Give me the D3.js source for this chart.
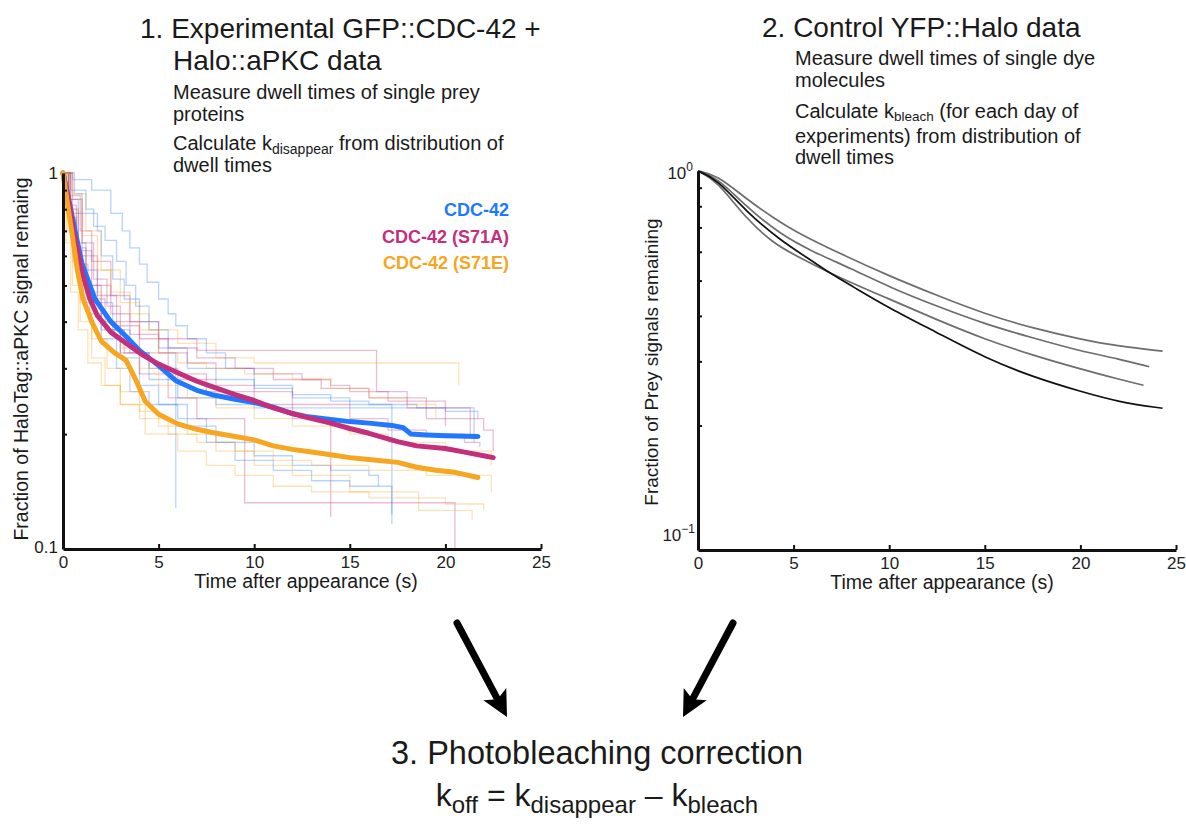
<!DOCTYPE html>
<html lang="en">
<head>
<meta charset="utf-8" />
<title>Photobleaching correction</title>
<style>
  body { margin: 0; background: #fff; }
  svg { display: block; font-family: 'Liberation Sans', Arial, sans-serif; fill: #1a1a1a; }
  .tick text { font-size: 17px; fill: #222; font-family: 'Liberation Sans', Arial, sans-serif; }
  .faint { fill: none; stroke-width: 1.3; stroke-opacity: 0.32; }
  .thick { fill: none; stroke-width: 5; stroke-linejoin: round; stroke-linecap: round; }
  .decay { fill: none; stroke-width: 1.7; }
</style>
</head>
<body>
<svg id="fig" width="1186" height="825"></svg>
<script src="https://d3js.org/d3.v7.min.js"></script>
<script>
// ---------------- data: panel 1 (mean curves) ----------------
const cdc42 = [[0,1],[0.3,0.85],[0.63,0.70],[1.0,0.57],[1.67,0.46],[2.5,0.40],[3.3,0.365],[4.0,0.335],[5,0.305],
  [5.9,0.278],[7,0.262],[7.8,0.255],[9,0.248],[10,0.243],[11,0.236],[12,0.227],[12.7,0.223],[14,0.219],[15,0.216],
  [16,0.214],[17.2,0.211],[17.8,0.208],[18.2,0.200],[19,0.199],[20,0.198],[21.7,0.197]];
const s71a = [[0,1],[0.3,0.84],[0.55,0.70],[1.0,0.54],[1.41,0.46],[1.8,0.415],[2.5,0.375],[3.3,0.350],[4.2,0.325],
  [5,0.308],[6,0.292],[7,0.277],[7.8,0.268],[9,0.255],[10,0.246],[11,0.235],[12,0.227],[12.7,0.222],[14,0.214],
  [15,0.207],[16,0.201],[17.5,0.191],[18.5,0.186],[20,0.183],[21,0.179],[22,0.175],[22.5,0.173]];
const s71e = [[0,1],[0.2,0.85],[0.45,0.70],[0.75,0.55],[1.05,0.46],[1.5,0.40],[2.0,0.355],[2.7,0.33],[3.3,0.315],
  [3.8,0.28],[4.3,0.245],[5,0.226],[6,0.213],[7,0.206],[7.8,0.202],[9,0.197],[10,0.193],[11,0.186],[12,0.182],
  [13,0.179],[14,0.176],[15,0.173],[16,0.171],[17.5,0.168],[18.5,0.163],[19.5,0.160],[20.5,0.158],[21.7,0.153]];

// individual embryos (step curves)
const cdc42Runs = [
  [[0,1],[0.5,0.96],[1.5,0.9],[2.5,0.78],[3.1,0.70],[3.5,0.63],[4.0,0.57],[4.4,0.51],[5.0,0.46],[5.5,0.42],[5.9,0.39],[6.5,0.36],[7.5,0.33],[8.5,0.30],[10,0.27],[12,0.25],[15,0.24],[17.2,0.23],[17.2,0.122]],
  [[0,1],[0.4,0.90],[1.2,0.80],[1.6,0.72],[2.2,0.66],[2.8,0.58],[3.3,0.50],[3.8,0.44],[4.5,0.38],[5.5,0.33],[5.9,0.29],[5.9,0.127]],
  [[0,1],[0.3,0.85],[0.8,0.65],[1.2,0.55],[1.8,0.45],[2.6,0.38],[3.5,0.33],[4.5,0.28],[6,0.25],[8,0.24],[10,0.235],[13,0.235],[16,0.235],[18,0.235],[21.5,0.235],[21.5,0.19]],
  [[0,1],[0.2,0.8],[0.5,0.62],[0.9,0.5],[1.4,0.42],[2,0.36],[2.8,0.30],[3.5,0.26],[4.5,0.24],[6,0.22],[7.5,0.19],[9,0.17],[11,0.16],[13,0.15],[15,0.145],[17.2,0.14],[17.2,0.115]],
  [[0,1],[0.6,0.88],[1.0,0.78],[1.8,0.70],[2.0,0.60],[2.6,0.52],[3.2,0.46],[4.0,0.40],[5.0,0.34],[6.5,0.30],[8,0.28],[10,0.265],[12,0.255],[14,0.245],[16,0.24],[18.5,0.235],[20,0.23],[21.7,0.22]],
  [[0,1],[0.3,0.75],[0.7,0.56],[1.2,0.45],[2,0.38],[3,0.32],[4,0.27],[5,0.24],[6.5,0.21],[8,0.19],[10,0.175],[12,0.165],[14,0.16],[16,0.155],[16.5,0.145]]
];
const s71aRuns = [
  [[0,1],[0.4,0.85],[1,0.65],[1.6,0.52],[2.3,0.44],[3,0.40],[4,0.36],[5.5,0.34],[7,0.335],[9,0.335],[12,0.335],[16.4,0.335],[16.4,0.26],[18,0.25],[19,0.22],[20,0.21]],
  [[0,1],[0.3,0.8],[0.8,0.62],[1.5,0.5],[2.5,0.42],[3.5,0.37],[5,0.33],[6.5,0.31],[8,0.30],[10,0.29],[12.5,0.28],[14,0.27],[15,0.26],[17,0.245],[20,0.235],[21.3,0.225],[21.3,0.2]],
  [[0,1],[0.3,0.82],[0.7,0.63],[1.2,0.5],[2,0.4],[3,0.33],[4,0.29],[5.5,0.25],[7,0.22],[9.5,0.20],[9.5,0.131],[20.5,0.131],[20.5,0.098]],
  [[0,1],[0.5,0.78],[1,0.6],[1.8,0.47],[2.8,0.39],[4,0.33],[5.5,0.29],[7.5,0.26],[10,0.24],[12,0.22],[14,0.19],[14,0.12]],
  [[0,1],[0.4,0.87],[0.9,0.7],[1.5,0.58],[2.5,0.47],[3.5,0.40],[5,0.36],[7,0.32],[9,0.30],[11,0.28],[13.5,0.265],[16,0.25],[18,0.235],[20,0.22],[22,0.205],[22.5,0.18]],
  [[0,1],[0.3,0.76],[0.7,0.57],[1.3,0.46],[2.2,0.38],[3.2,0.33],[4.5,0.30],[6,0.28],[8,0.27],[10,0.26],[12,0.24],[15,0.22],[17,0.205],[19,0.20],[21,0.19],[21.8,0.185]]
];
const s71eRuns = [
  [[0,1],[0.2,0.78],[0.5,0.58],[0.9,0.45],[1.5,0.36],[2.3,0.30],[3,0.26],[4,0.23],[5,0.21],[6.5,0.2],[8,0.18],[10,0.165],[12,0.155],[15,0.14],[18.6,0.125],[21.4,0.118]],
  [[0,1],[0.4,0.85],[1,0.68],[1.8,0.55],[2.5,0.48],[3.5,0.42],[4.5,0.38],[6,0.35],[8,0.32],[10,0.31],[14,0.31],[20.7,0.31],[20.7,0.27]],
  [[0,1],[0.2,0.7],[0.5,0.5],[0.9,0.4],[1.5,0.32],[2.2,0.27],[3,0.24],[4,0.22],[5.5,0.2],[7,0.19],[9,0.18],[11,0.17],[13,0.165],[16,0.16],[19,0.155],[22.4,0.15],[22.4,0.14]],
  [[0,1],[0.3,0.8],[0.7,0.6],[1.2,0.48],[2,0.4],[3,0.34],[4,0.3],[5,0.27],[6.5,0.25],[8,0.235],[10,0.22],[12,0.21],[15,0.2],[17,0.19],[20,0.18],[22.4,0.165]],
  [[0,1],[0.15,0.65],[0.4,0.48],[0.8,0.38],[1.3,0.31],[2,0.27],[3,0.24],[4.3,0.2],[6,0.18],[7.5,0.165],[9,0.155],[11,0.145],[13,0.14],[16,0.135],[20,0.13],[22,0.125]],
  [[0,1],[0.5,0.88],[1.2,0.7],[2,0.55],[3,0.45],[4,0.38],[5,0.33],[6,0.31],[7.5,0.3],[9.5,0.29],[12,0.28],[14,0.265],[16,0.25],[18,0.24],[19.5,0.22]]
];

// ---------------- data: panel 2 (photobleaching controls) ----------------
const dayA = [[0,1],[1,0.975],[2.5,0.84],[4,0.74],[5,0.685],[7.5,0.59],[10,0.515],[12.5,0.455],[15,0.405],[17.5,0.37],[20,0.345],[22,0.33],[24.3,0.32]];
const dayB = [[0,1],[1,0.96],[2.5,0.80],[4.3,0.67],[6,0.60],[8,0.54],[10,0.48],[12.5,0.425],[15,0.38],[17.5,0.348],[20,0.32],[22,0.305],[23.6,0.29]];
const dayC = [[0,1],[1,0.94],[2.5,0.74],[4,0.63],[5,0.59],[7,0.52],[10,0.445],[12.5,0.39],[15,0.345],[17.5,0.312],[20,0.286],[22,0.268],[23.3,0.258]];
const dayD = [[0,1],[1,0.95],[2.5,0.775],[4.3,0.645],[6,0.565],[7,0.52],[8,0.485],[10,0.42],[12.5,0.36],[15,0.307],[17.5,0.272],[20,0.248],[22,0.232],[24.3,0.223]];

const legendNames = ["CDC-42", "CDC-42 (S71A)", "CDC-42 (S71E)"];
const colors = ["#2277ff", "#c42f7b", "#f6a620"];
const xTicks = [0, 5, 10, 15, 20, 25];
const minorY = [0.2, 0.3, 0.4, 0.5, 0.6, 0.7, 0.8, 0.9];

const svg = d3.select("#fig");
svg.append("rect").attr("width", 1186).attr("height", 825).attr("fill", "#fff");

// helper for text with optional subscripts
function label(x, y, parts, size, opts = {}) {
  const t = svg.append("text")
    .attr("x", x).attr("y", y)
    .attr("font-size", size)
    .attr("text-anchor", opts.anchor || "start")
    .attr("fill", "#1a1a1a");
  let carry = 0;
  parts.forEach(p => {
    if (typeof p === "string") {
      const s = t.append("tspan").text(p);
      if (carry) s.attr("dy", -carry);
      carry = 0;
    } else {
      t.append("tspan").attr("font-size", p.size).attr("dy", p.dy - carry).text(p.text);
      carry = p.dy;
    }
  });
  return t;
}

// ---------------- panel 1 ----------------
const x1 = d3.scaleLinear().domain([0, 25]).range([63, 541]);
const y1 = d3.scaleLog().domain([0.0985, 1]).range([549, 173]);
const step1 = d3.line().x(d => x1(d[0])).y(d => y1(d[1])).curve(d3.curveStepAfter);
const line1 = d3.line().x(d => x1(d[0])).y(d => y1(d[1]));

[cdc42Runs, s71aRuns, s71eRuns].forEach((runs, k) => {
  svg.append("g").selectAll("path").data(runs).join("path")
    .attr("class", "faint").attr("stroke", colors[k]).attr("d", step1);
});
[cdc42, s71a, s71e].forEach((s, k) => {
  svg.append("path").attr("class", "thick").attr("stroke", colors[k]).attr("d", line1(s));
});

function styleAxis(g) {
  g.select(".domain").attr("stroke", "#111").attr("stroke-width", 3);
  g.selectAll(".tick line").attr("stroke", "#111").attr("stroke-width", 2);
}

svg.append("g").attr("transform", "translate(0,549)")
  .call(d3.axisBottom(x1).tickValues(xTicks).tickSize(-5).tickSizeOuter(0).tickPadding(7))
  .call(styleAxis);
const yAx1 = svg.append("g").attr("transform", "translate(63,0)")
  .call(d3.axisLeft(y1).tickValues(minorY).tickSize(-4).tickSizeOuter(0))
  .call(styleAxis);
yAx1.selectAll(".tick text").remove();
label(58, 179, ["1"], 17, { anchor: "end" });
label(58, 553, ["0.1"], 17, { anchor: "end" });

svg.append("text").attr("transform", "translate(28,359) rotate(-90)")
  .attr("text-anchor", "middle").attr("font-size", 19.5).attr("fill", "#1a1a1a")
  .text("Fraction of HaloTag::aPKC signal remaing");
label(x1(12.5) + 4, 588, ["Time after appearance (s)"], 19.5, { anchor: "middle" });

legendNames.forEach((n, k) => {
  svg.append("text").attr("x", 509).attr("y", 216 + k * 26.5)
    .attr("text-anchor", "end").attr("font-size", 18).attr("font-weight", "bold")
    .attr("fill", colors[k]).text(n);
});

// ---------------- panel 2 ----------------
const x2 = d3.scaleLinear().domain([0, 25]).range([698, 1176]);
const y2 = d3.scaleLog().domain([0.091, 1]).range([550, 171]);
const line2 = d3.line().x(d => x2(d[0])).y(d => y2(d[1])).curve(d3.curveBasis);

[dayA, dayB, dayC].forEach(s => {
  svg.append("path").attr("class", "decay").attr("stroke", "#6d6d6d").attr("d", line2(s));
});
svg.append("path").attr("class", "decay").attr("stroke", "#111").attr("d", line2(dayD));

svg.append("g").attr("transform", "translate(0,550)")
  .call(d3.axisBottom(x2).tickValues(xTicks).tickSize(-5).tickSizeOuter(0).tickPadding(7))
  .call(styleAxis);
const yAx2 = svg.append("g").attr("transform", "translate(698,0)")
  .call(d3.axisLeft(y2).tickValues(minorY).tickSize(-4).tickSizeOuter(0))
  .call(styleAxis);
yAx2.selectAll(".tick text").remove();

const sup0 = svg.append("text").attr("x", 693).attr("y", 179).attr("text-anchor", "end").attr("font-size", 17).attr("fill", "#222");
sup0.append("tspan").text("10");
sup0.append("tspan").attr("font-size", 12).attr("dy", -8).text("0");
const sup1 = svg.append("text").attr("x", 695).attr("y", 541).attr("text-anchor", "end").attr("font-size", 17).attr("fill", "#222");
sup1.append("tspan").text("10");
sup1.append("tspan").attr("font-size", 12).attr("dy", -8).text("\u22121");

svg.append("text").attr("transform", "translate(658,362) rotate(-90)")
  .attr("text-anchor", "middle").attr("font-size", 19).attr("fill", "#1a1a1a")
  .text("Fraction of Prey signals remaining");
label(x2(12.5) + 5, 589, ["Time after appearance (s)"], 19.5, { anchor: "middle" });

// ---------------- headings ----------------
label(140, 38, ["1. Experimental GFP::CDC-42 +"], 28);
label(173, 70, ["Halo::aPKC data"], 28);
label(173, 99, ["Measure dwell times of single prey"], 20);
label(173, 121, ["proteins"], 20);
label(173, 150, ["Calculate k", { text: "disappear", size: 14, dy: 4 }, " from distribution of"], 20);
label(173, 172, ["dwell times"], 20);

label(762, 37, ["2. Control YFP::Halo data"], 28);
label(795, 65, ["Measure dwell times of single dye"], 20);
label(795, 87, ["molecules"], 20);
label(795, 118, ["Calculate k", { text: "bleach", size: 13.5, dy: 3 }, " (for each day of"], 20);
label(795, 143, ["experiments) from distribution of"], 20);
label(795, 164, ["dwell times"], 20);

// ---------------- arrows ----------------
function arrow(xa, ya, xb, yb) {
  const ang = Math.atan2(yb - ya, xb - xa);
  const len = 26, half = 13;
  const bx = xb - len * Math.cos(ang), by = yb - len * Math.sin(ang);
  svg.append("line").attr("x1", xa).attr("y1", ya).attr("x2", bx + 4 * Math.cos(ang)).attr("y2", by + 4 * Math.sin(ang))
    .attr("stroke", "#000").attr("stroke-width", 7).attr("stroke-linecap", "round");
  const px = -Math.sin(ang), py = Math.cos(ang);
  svg.append("path")
    .attr("d", `M${xb},${yb}L${bx + half * px},${by + half * py}L${bx + 6 * Math.cos(ang)},${by + 6 * Math.sin(ang)}L${bx - half * px},${by - half * py}Z`)
    .attr("fill", "#000");
}
arrow(457, 623, 507, 717);
arrow(733, 623, 683, 717);

// ---------------- bottom ----------------
label(597, 764, ["3. Photobleaching correction"], 32.5, { anchor: "middle" });
label(597, 806, ["k", { text: "off", size: 24, dy: 7 }, " = k", { text: "disappear", size: 24, dy: 7 }, " \u2013 k", { text: "bleach", size: 24, dy: 7 }], 32, { anchor: "middle" });
</script>
</body>
</html>
